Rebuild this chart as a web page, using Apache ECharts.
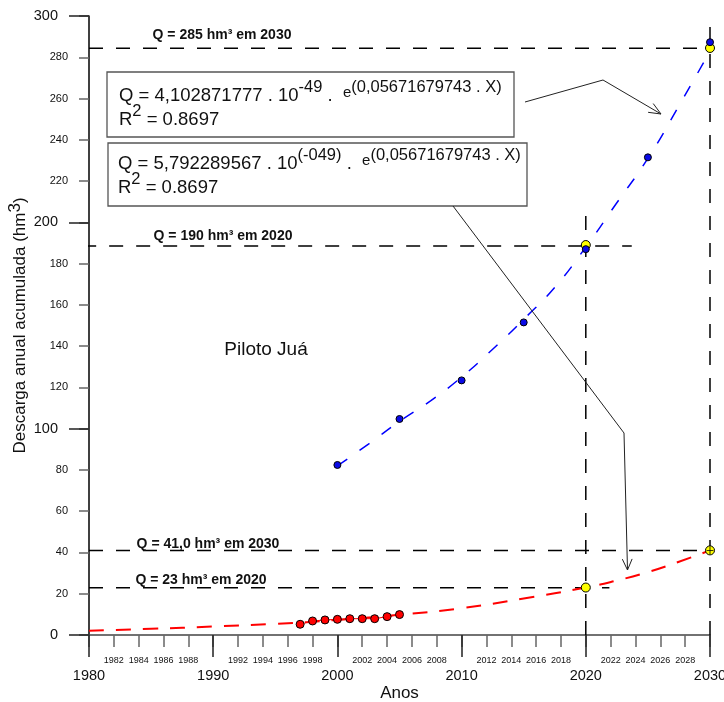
<!DOCTYPE html>
<html>
<head>
<meta charset="utf-8">
<script src="https://cdn.jsdelivr.net/npm/echarts@6/dist/echarts.min.js"></script>
<style>
html,body{margin:0;padding:0;background:#fff;}
#chart{width:724px;height:702px;}
</style>
</head>
<body>
<div id="chart"></div>
<script>
// ---- data ----
const blueYears   = [2000, 2005, 2010, 2015, 2020, 2025, 2030];
const blueValues  = [82.4, 104.7, 123.4, 151.5, 187, 231.5, 287.3];

const redYears    = [1997, 1998, 1999, 2000, 2001, 2002, 2003, 2004, 2005];
const redValues   = [5.2, 6.8, 7.3, 7.6, 7.9, 7.9, 7.9, 8.9, 9.9];

const projYears      = [2020, 2030];
const projHighValues = [189, 284.5];
const projLowValues  = [23, 41];

const blueFitYears  = [2000, 2002.5, 2005, 2007.5, 2010, 2012.5, 2015, 2017.5, 2020, 2022.5, 2025, 2027.5, 2030];
const blueFitValues = [82, 92.5, 103.5, 113.5, 125, 138.5, 153, 168.5, 188, 209.5, 231, 256.5, 283];

const redFitYears  = [1980, 1985, 1990, 1995, 2000, 2005, 2010, 2015, 2020, 2022.5, 2025, 2027.5, 2030];
const redFitValues = [2.1, 3.0, 4.1, 5.4, 7.3, 9.8, 13.0, 17.7, 23, 26.4, 30.5, 35.5, 41];

const refLabels  = ['Q = 285 hm³ em 2030', 'Q = 190 hm³ em 2020', 'Q = 41,0 hm³ em 2030', 'Q = 23 hm³ em 2020'];
const refValues  = [284.4, 188.5, 40.9, 22.9];
const refStart   = [1980, 1979.45, 1980, 1980];
const refEnd     = [2030, 2023.7, 2030, 2021.9];

const vRefYears  = [2020, 2030];
const vRefTop    = [205, 300];

const xMin = 1980, xMax = 2030, yMin = 0, yMax = 300;

// ---- chart ----
const FONT = '"Liberation Sans", Arial, sans-serif';
const chart = echarts.init(document.getElementById('chart'), null, {renderer: 'canvas'});

const zip = (xs, ys) => xs.map((x, i) => [x, ys[i]]);
const dash = [14, 13];

const series = [];
refValues.forEach((v, i) => {
  series.push({
    type: 'line', silent: true, clip: false, symbol: 'none', z: 1,
    data: [[refStart[i], v], [refEnd[i], v]],
    lineStyle: {color: '#000', width: 1.5, type: dash}
  });
});
vRefYears.forEach((x, i) => {
  series.push({
    type: 'line', silent: true, clip: false, symbol: 'none', z: 1,
    data: [[x, yMin], [x, vRefTop[i]]],
    lineStyle: {color: '#000', width: 1.5, type: dash}
  });
});
series.push({
  name: 'fitRed', type: 'line', smooth: true, symbol: 'none', silent: true, z: 3,
  data: zip(redFitYears, redFitValues),
  lineStyle: {color: '#ff0000', width: 2, type: [15, 12]}
});
series.push({
  name: 'fitBlue', type: 'line', smooth: true, symbol: 'none', silent: true, z: 3,
  data: zip(blueFitYears, blueFitValues),
  lineStyle: {color: '#0000ff', width: 1.5, type: [12, 15]}
});
series.push({
  name: 'projHigh', type: 'scatter', symbolSize: 9, z: 4,
  data: zip(projYears, projHighValues),
  itemStyle: {color: '#ffff00', borderColor: '#000', borderWidth: 1, opacity: 1}
});
series.push({
  name: 'projLow', type: 'scatter', symbolSize: 9, z: 4,
  data: zip(projYears, projLowValues),
  itemStyle: {color: '#ffff00', borderColor: '#000', borderWidth: 1, opacity: 1}
});
series.push({
  name: 'cross', type: 'scatter', z: 6, symbolSize: 7,
  symbol: 'path://M0,4.4 L10,4.4 L10,5.6 L0,5.6 Z M4.4,0 L5.6,0 L5.6,10 L4.4,10 Z',
  data: [[projYears[1], projLowValues[1]]],
  itemStyle: {color: '#000', opacity: 1}
});
series.push({
  name: 'blue', type: 'scatter', symbolSize: 7, z: 5,
  data: zip(blueYears, blueValues),
  itemStyle: {color: '#0a0ae6', borderColor: '#000', borderWidth: 1, opacity: 1}
});
series.push({
  name: 'red', type: 'line', symbol: 'circle', symbolSize: 8, z: 5,
  data: zip(redYears, redValues),
  lineStyle: {color: '#ff0000', width: 1},
  itemStyle: {color: '#ff0000', borderColor: '#000', borderWidth: 1}
});

const labelStyle = {fontFamily: FONT, color: '#111'};

const option = {
  animation: false,
  backgroundColor: '#fff',
  textStyle: {fontFamily: FONT},
  grid: {left: 89, right: 14, top: 16, bottom: 67, containLabel: false, outerBoundsMode: 'none'},
  xAxis: [
    {
      type: 'value', min: xMin, max: xMax, interval: 2, position: 'bottom',
      axisLine: {show: true, lineStyle: {color: '#444', width: 1.5}},
      axisTick: {show: true, length: 12, lineStyle: {color: '#666', width: 1.5}},
      axisLabel: Object.assign({fontSize: 9, margin: 21, formatter: v => (v % 10 === 0 ? '' : String(v))}, labelStyle),
      splitLine: {show: false}
    },
    {
      type: 'value', min: xMin, max: xMax, interval: 10, position: 'bottom', offset: 0,
      axisLine: {show: false},
      axisTick: {show: true, length: 22, lineStyle: {color: '#222', width: 1.5}},
      axisLabel: Object.assign({fontSize: 14.5, margin: 33, showMaxLabel: true, showMinLabel: true, formatter: v => String(v)}, labelStyle),
      splitLine: {show: false},
      name: 'Anos', nameLocation: 'middle', nameGap: 50, nameMoveOverlap: false,
      nameTextStyle: {fontFamily: FONT, fontSize: 17, color: '#111'}
    }
  ],
  yAxis: [
    {
      type: 'value', min: yMin, max: yMax, interval: 20, position: 'left',
      axisLine: {show: true, lineStyle: {color: '#000', width: 1.5}},
      axisTick: {show: true, length: 10, lineStyle: {color: '#666', width: 1.5}},
      axisLabel: Object.assign({fontSize: 11, margin: 21, formatter: v => (v % 100 === 0 ? '' : String(v))}, labelStyle),
      splitLine: {show: false}
    },
    {
      type: 'value', min: yMin, max: yMax, interval: 100, position: 'left', offset: 0,
      axisLine: {show: false},
      axisTick: {show: true, length: 20, lineStyle: {color: '#222', width: 1.5}},
      axisLabel: Object.assign({fontSize: 14.5, margin: 31}, labelStyle),
      splitLine: {show: false},
      name: '{a|Descarga anual acumulada (hm}{s|3}{a|)}', nameLocation: 'middle', nameGap: 56, nameMoveOverlap: false,
      nameTextStyle: {
        fontFamily: FONT, fontSize: 17, color: '#111',
        rich: {
          a: {fontFamily: FONT, fontSize: 17, color: '#111', lineHeight: 26},
          s: {fontFamily: FONT, fontSize: 17, color: '#111', lineHeight: 8, verticalAlign: 'top'}
        }
      }
    }
  ],
  series: series.map(s => Object.assign({xAxisIndex: 0, yAxisIndex: 0}, s))
};

const eqRich = {
  m: {fontFamily: FONT, fontSize: 18.5, lineHeight: 34, fill: '#111'},
  s: {fontFamily: FONT, fontSize: 16.5, lineHeight: 6, verticalAlign: 'top', fill: '#111'},
  e: {fontFamily: FONT, fontSize: 15, lineHeight: 22, padding: [0, 0, 6, 0], fill: '#111'}
};

function arrowHead(tip, from, len, ang) {
  const a = Math.atan2(from[1] - tip[1], from[0] - tip[0]);
  return [
    [tip[0] + len * Math.cos(a + ang), tip[1] + len * Math.sin(a + ang)],
    tip,
    [tip[0] + len * Math.cos(a - ang), tip[1] + len * Math.sin(a - ang)]
  ];
}

const arrow1 = [[525, 102], [603, 80], [661, 114]];
const arrow2 = [[453, 206], [624, 433], [627.5, 570]];

function eqLine(text, x, centerY) {
  return {type: 'text', z: 11, x: x, y: centerY - 17,
    style: {text: text, rich: eqRich, textVerticalAlign: 'top', textAlign: 'left'}};
}

const graphic = [
  {type: 'rect', z: 10, shape: {x: 107, y: 72, width: 407, height: 65},
   style: {fill: '#fff', stroke: '#555', lineWidth: 1.3}},
  eqLine('{m|Q = 4,102871777 . 10}{s|-49}{m| .  }{e|e}{s|(0,05671679743 . X)}', 119, 96),
  eqLine('{m|R}{s|2}{m| = 0.8697}', 119, 120),
  {type: 'rect', z: 10, shape: {x: 108, y: 143, width: 419, height: 63},
   style: {fill: '#fff', stroke: '#555', lineWidth: 1.3}},
  eqLine('{m|Q = 5,792289567 . 10}{s|(-049)}{m| .  }{e|e}{s|(0,05671679743 . X)}', 118, 164),
  eqLine('{m|R}{s|2}{m| = 0.8697}', 118, 188),
  {type: 'polyline', z: 12, shape: {points: arrow1}, style: {stroke: '#222', lineWidth: 1, fill: null}},
  {type: 'polyline', z: 12, shape: {points: arrowHead(arrow1[2], arrow1[1], 13, 0.4)}, style: {stroke: '#222', lineWidth: 1, fill: null}},
  {type: 'polyline', z: 12, shape: {points: arrow2}, style: {stroke: '#222', lineWidth: 1, fill: null}},
  {type: 'polyline', z: 12, shape: {points: arrowHead(arrow2[2], arrow2[1], 12, 0.42)}, style: {stroke: '#222', lineWidth: 1, fill: null}},
  {type: 'text', z: 11, x: 266, y: 350,
   style: {text: 'Piloto Juá', font: '19px ' + FONT, fill: '#111', textAlign: 'center', textVerticalAlign: 'middle'}}
];

const refLabelPos = [[222, 35], [223, 236], [208, 544], [201, 580]];
refLabels.forEach((t, i) => {
  graphic.push({type: 'text', z: 11, x: refLabelPos[i][0], y: refLabelPos[i][1],
    style: {text: t, font: 'bold 14px ' + FONT, fill: '#111', textAlign: 'center', textVerticalAlign: 'middle'}});
});

option.graphic = graphic;
chart.setOption(option);
</script>
</body>
</html>
